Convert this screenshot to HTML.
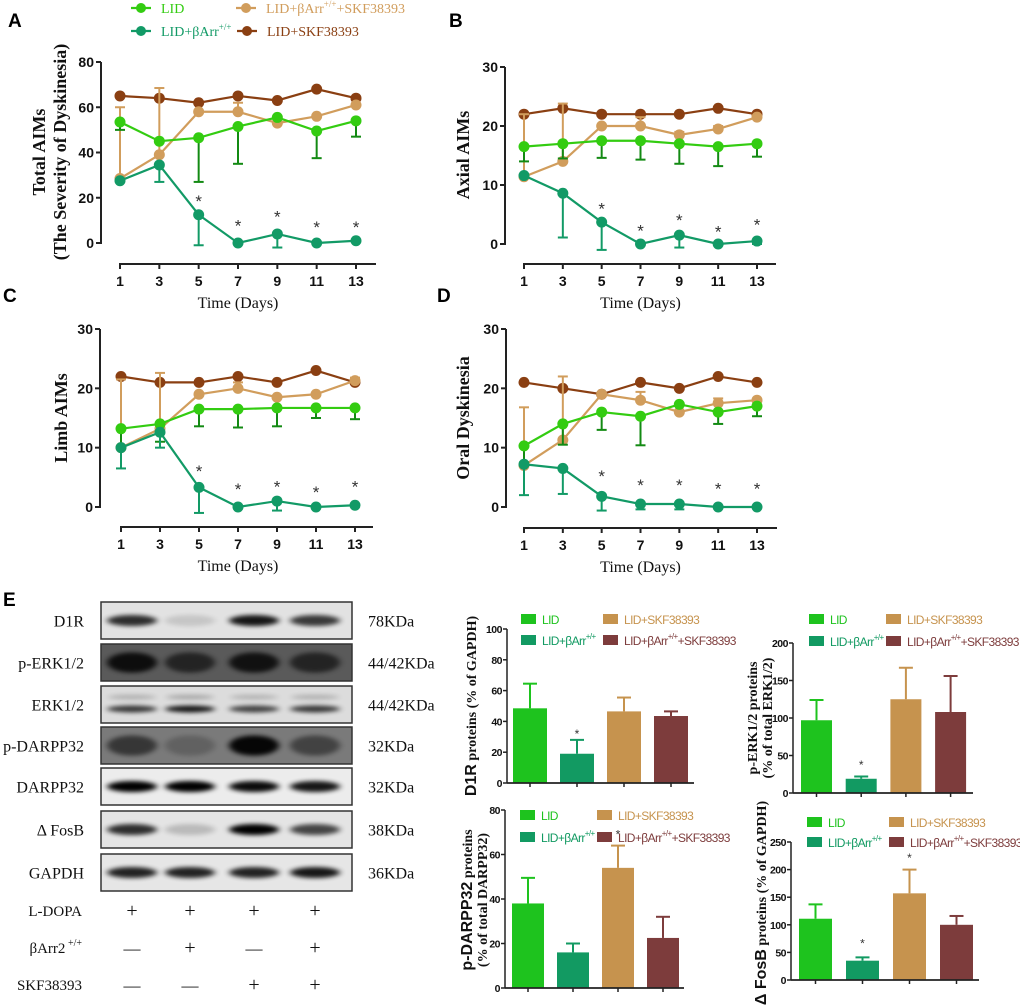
<!DOCTYPE html>
<html><head><meta charset="utf-8">
<style>
html,body{margin:0;padding:0;background:#fff;}
svg{display:block;}
.serif{font-family:"Liberation Serif",serif;}
.sans{font-family:"Liberation Sans",sans-serif;}
</style></head>
<body>
<svg id="fig" width="1020" height="1006" viewBox="0 0 1020 1006" xmlns="http://www.w3.org/2000/svg">
<defs>
<filter id="blur" x="-30%" y="-100%" width="160%" height="300%"><feGaussianBlur stdDeviation="3.2 2.2"/></filter>
</defs>
</svg>
<script>
const SVG='http://www.w3.org/2000/svg';
const fig=document.getElementById('fig');
function mk(tag,attrs,name,parent){
  const el=document.createElementNS(SVG,tag);
  for(const k in attrs)el.setAttribute(k,attrs[k]);
  
  
  (parent||fig).appendChild(el);return el;
}
function txt(x,y,s,attrs,name,parent){const t=mk('text',Object.assign({x:x,y:y},attrs),name,parent);t.textContent=s;return t;}

/* ---------- line chart data ---------- */
const days=[1,3,5,7,9,11,13];
const dayTicks=['1','3','5','7','9','11','13'];
// Panel A
const aLid=[53.5,45,46.5,51.5,55.5,49.5,54];
const aLidErr=[50,null,27,35,null,37.5,47];
const aBarr=[27.5,34.5,12.5,0,4,0,1];
const aBarrErr=[null,27,-1,null,-2,null,null];
const aTan=[28.5,39,58,58,53,56,61];
const aTanErr=[60,68.5,null,62,null,null,null];
const aBrown=[65,64,62,65,63,68,64];
const aStars=[null,null,20,9,13,8.5,8.5];
const aTicks=[0,20,40,60,80];
// Panel B
const bLid=[16.5,17,17.5,17.5,17,16.5,17];
const bLidErr=[14,14.5,14.6,14.3,13.6,13.2,14.8];
const bBarr=[11.6,8.6,3.7,0,1.5,0,0.5];
const bBarrErr=[null,1.1,-1,null,-0.6,null,0];
const bTan=[11.4,14,20,20,18.5,19.5,21.5];
const bTanErr=[22,23.8,null,21.5,19,20,null];
const bBrown=[22,23,22,22,22,23,22];
const bStars=[null,null,6.5,2.8,4.6,2.6,3.8];
const bdTicks=[0,10,20,30];
// Panel C
const cLid=[13.2,14,16.5,16.5,16.7,16.7,16.7];
const cLidErr=[10,11,13.6,13.4,13.6,15,14.8];
const cBarr=[10,12.6,3.3,0,1,0,0.3];
const cBarrErr=[6.5,10,-1,null,-0.6,null,null];
const cTan=[10,13.2,19,20,18.5,19,21.3];
const cTanErr=[21.5,22.6,null,21,null,null,21.8];
const cBrown=[22,21,21,22,21,23,21];
const cStars=[null,null,6.6,3.5,4,3,4];
// Panel D
const dLid=[10.3,14,16,15.3,17.3,16,17];
const dLidErr=[7.5,10.5,13,10.4,null,14,15.3];
const dBarr=[7.2,6.5,1.8,0.5,0.5,0,0];
const dBarrErr=[2,2.2,-0.6,-0.4,-0.4,null,null];
const dTan=[7,11.3,19,18,16,17.5,18];
const dTanErr=[16.8,22,null,19.4,null,18.3,null];
const dBrown=[21,20,19,21,20,22,21];
const dStars=[null,null,5.7,4.2,4.2,3.6,3.6];

const C_LID='#33cc11',C_LIDE='#138a13',C_BARR='#129a66',C_TAN='#d19d5c',C_BROWN='#8a3f12';

function lineChart(p,id){
  const g=mk('g',{},id+'-chart');
  const y=v=>p.y0+(v-p.ymin)/(p.ymax-p.ymin)*(p.ytop-p.y0);
  const x=d=>p.x1+(d-1)/12*(p.x13-p.x1);
  mk('line',{x1:p.ax,y1:p.ytop,x2:p.ax,y2:p.y0+1,stroke:'#222','stroke-width':2},id+'-y-axis',g);
  p.ticks.forEach(t=>{
    mk('line',{x1:p.ax-5,y1:y(t),x2:p.ax,y2:y(t),stroke:'#222','stroke-width':2},id+'-y-tick',g);
    txt(p.ax-7,y(t)+5,String(t),{'text-anchor':'end','font-size':14,'font-weight':'bold',class:'sans',fill:'#111'},id+'-y-tick-label',g);
  });
  mk('line',{x1:x(1)-1,y1:p.xa,x2:p.xend,y2:p.xa,stroke:'#222','stroke-width':2},id+'-x-axis',g);
  days.forEach((d,i)=>{
    mk('line',{x1:x(d),y1:p.xa,x2:x(d),y2:p.xa+5,stroke:'#222','stroke-width':2},id+'-x-tick',g);
    txt(x(d),p.xa+22,dayTicks[i],{'text-anchor':'middle','font-size':14,'font-weight':'bold',class:'sans',fill:'#111'},id+'-x-tick-label',g);
  });
  txt((x(1)+x(13))/2,p.xa+44,'Time (Days)',{'text-anchor':'middle','font-size':16,class:'serif',fill:'#111'},id+'-x-axis-title',g);
  p.ytitle.forEach((s,k)=>{
    const tx=p.tx[k];
    txt(tx,p.ty,s,{'text-anchor':'middle','font-size':18,'font-weight':'bold',class:'serif',fill:'#111',transform:'rotate(-90 '+tx+' '+p.ty+')'},id+'-y-axis-title',g);
  });
  const series=[[p.brown,null,C_BROWN,C_BROWN,'skf'],[p.tan,p.tanErr,C_TAN,C_TAN,'barr-skf'],[p.lid,p.lidErr,C_LID,C_LIDE,'lid'],[p.barr,p.barrErr,C_BARR,C_BARR,'barr']];
  series.forEach(s=>{
    const [vals,errs,col,ecol,nm]=s;
    if(errs)errs.forEach((e,i)=>{
      if(e===null)return;
      mk('line',{x1:x(days[i]),y1:y(vals[i]),x2:x(days[i]),y2:y(e),stroke:ecol,'stroke-width':2},id+'-'+nm+'-error-bar',g);
      mk('line',{x1:x(days[i])-5,y1:y(e),x2:x(days[i])+5,y2:y(e),stroke:ecol,'stroke-width':2},id+'-'+nm+'-error-cap',g);
    });
    mk('polyline',{points:vals.map((v,i)=>x(days[i])+','+y(v)).join(' '),fill:'none',stroke:col,'stroke-width':2.2},id+'-'+nm+'-line',g);
    vals.forEach((v,i)=>mk('circle',{cx:x(days[i]),cy:y(v),r:5.5,fill:col},id+'-'+nm+'-point',g));
  });
  p.stars.forEach((s,i)=>{if(s!==null)txt(x(days[i]),y(s)+9,'*',{'text-anchor':'middle','font-size':17,class:'sans',fill:'#333'},id+'-significance-star',g);});
}
lineChart({ax:101,ytop:62,y0:243,ymin:0,ymax:80,ticks:aTicks,xa:264,x1:120,x13:356,xend:376,
  ytitle:['Total AIMs','(The Severity of Dyskinesia)'],tx:[45,66],ty:152,
  lid:aLid,lidErr:aLidErr,barr:aBarr,barrErr:aBarrErr,tan:aTan,tanErr:aTanErr,brown:aBrown,stars:aStars},'panel-a');
lineChart({ax:505,ytop:67,y0:244,ymin:0,ymax:30,ticks:bdTicks,xa:264,x1:524,x13:757,xend:776,
  ytitle:['Axial AIMs'],tx:[469],ty:155,
  lid:bLid,lidErr:bLidErr,barr:bBarr,barrErr:bBarrErr,tan:bTan,tanErr:bTanErr,brown:bBrown,stars:bStars},'panel-b');
lineChart({ax:100,ytop:329,y0:507,ymin:0,ymax:30,ticks:bdTicks,xa:527,x1:121,x13:355,xend:373,
  ytitle:['Limb AIMs'],tx:[67],ty:418,
  lid:cLid,lidErr:cLidErr,barr:cBarr,barrErr:cBarrErr,tan:cTan,tanErr:cTanErr,brown:cBrown,stars:cStars},'panel-c');
lineChart({ax:506,ytop:329,y0:507,ymin:0,ymax:30,ticks:bdTicks,xa:528,x1:524,x13:757,xend:777,
  ytitle:['Oral Dyskinesia'],tx:[469],ty:418,
  lid:dLid,lidErr:dLidErr,barr:dBarr,barrErr:dBarrErr,tan:dTan,tanErr:dTanErr,brown:dBrown,stars:dStars},'panel-d');

/* top legend */
function lineLegend(x,y,col,label,sup,rest,name){
  const g=mk('g',{},name);
  mk('line',{x1:x,y1:y,x2:x+20,y2:y,stroke:col,'stroke-width':2.2},name+'-line',g);
  mk('circle',{cx:x+10,cy:y,r:5,fill:col},name+'-marker',g);
  const t=txt(x+30,y+5,label,{'font-size':14,class:'serif',fill:col},name+'-label',g);
  if(sup){const s=mk('tspan',{'font-size':9,dy:-6},name+'-sup',t);s.textContent=sup;
    if(rest){const r=mk('tspan',{'font-size':14,dy:6},name+'-rest',t);r.textContent=rest;}}
}
lineLegend(131,8,C_LID,'LID',null,null,'legend-lid');
lineLegend(131,31,C_BARR,'LID+βArr','+/+',null,'legend-lid-barr');
lineLegend(236,8,C_TAN,'LID+βArr','+/+','+SKF38393','legend-lid-barr-skf');
lineLegend(237,31,C_BROWN,'LID+SKF38393',null,null,'legend-lid-skf');

/* panel letters */
[['A',8,27],['B',449,27],['C',3,302],['D',437,302],['E',3,606]].forEach(l=>txt(l[1],l[2],l[0],{'font-size':19,'font-weight':'bold',class:'sans',fill:'#000'},'panel-label-'+l[0].toLowerCase()));

/* ---------- western blot ---------- */
const blotRows=['D1R','p-ERK1/2','ERK1/2','p-DARPP32','DARPP32','Δ FosB','GAPDH'];
const blotKDa=['78KDa','44/42KDa','44/42KDa','32KDa','32KDa','38KDa','36KDa'];
const blotBg=['#e2e2e2','#5a5a5a','#dcdcdc','#7a7a7a','#ececec','#e4e4e4','#e6e6e6'];
const blotBands=[[0.8,0.12,0.9,0.75],[0.85,0.6,0.8,0.6],[0.75,0.9,0.7,0.75],[0.55,0.2,0.95,0.45],[1,1,0.95,0.9],[0.8,0.18,1,0.7],[0.85,0.85,0.85,0.9]];
const blotTop=[602,644,686,727,768,811,854];
const laneX=[132,190,254,315];
const g=mk('g',{},'western-blot');
blotRows.forEach((r,i)=>{
  const y=blotTop[i],h=37;
  const rg=mk('g',{},'blot-row-'+i,g);
  mk('rect',{x:101,y:y,width:251,height:h,fill:blotBg[i]},'blot-background',rg);
  blotBands[i].forEach((v,j)=>{
    const by=(i===2)?y+h*0.62:y+h/2;
    const bh=(i===1||i===3)?h*0.55:(i===2?7:h*0.3);
    mk('ellipse',{cx:laneX[j],cy:by,rx:25,ry:bh/2,fill:'#000',opacity:v,filter:'url(#blur)'},'blot-band',rg);
    if(i===2)mk('ellipse',{cx:laneX[j],cy:y+h*0.3,rx:24,ry:2.5,fill:'#000',opacity:v*0.25,filter:'url(#blur)'},'blot-band-upper',rg);
  });
  mk('rect',{x:101,y:y,width:251,height:h,fill:'none',stroke:'#333','stroke-width':1.5},'blot-frame',rg);
  txt(84,y+h/2+6,r,{'text-anchor':'end','font-size':16,class:'serif',fill:'#111'},'blot-label',rg);
  txt(368,y+h/2+6,blotKDa[i],{'font-size':16,class:'serif',fill:'#111'},'blot-kda-label',rg);
});
const treatNames=['L-DOPA','βArr2','SKF38393'];
const treatSigns=[['+','+','+','+'],['—','+','—','+'],['—','—','+','+']];
[910,947,984].forEach((y,i)=>{
  const t=txt(82,y+6,treatNames[i],{'text-anchor':'end','font-size':15,class:'serif',fill:'#111'},'treatment-label',g);
  if(i===1){const s=mk('tspan',{'font-size':10,dy:-7},'treatment-sup',t);s.textContent=' +/+';}
  treatSigns[i].forEach((s,j)=>txt(laneX[j],y+7,s,{'text-anchor':'middle','font-size':s==='+'?20:17,class:'serif',fill:'#111'},'treatment-sign',g));
});

/* ---------- bar charts ---------- */
const barColors=['#1ec31e','#129a62','#c6934e','#7d3c3c'];
const d1rVals=[48.5,19,46.5,43.5];
const d1rErr=[64.5,28,55.5,46.5];
const d1rStars=[null,33,null,null];
const perkVals=[97,19,125,108];
const perkErr=[124,22,167,156];
const perkStars=[null,40,null,null];
const pdarppVals=[38,16,54,22.5];
const pdarppErr=[49.5,20,64,32];
const pdarppStars=[null,null,70,null];
const fosbVals=[111,35,157,100];
const fosbErr=[137,41,200,116];
const fosbStars=[null,70,225,null];
const d1rTicks=[0,20,40,60,80,100];
const perkTicks=[0,50,100,150,200];
const pdarppTicks=[0,20,40,60,80];
const fosbTicks=[0,50,100,150,200,250];

function barChart(p,id){
  const g=mk('g',{},id+'-chart');
  const y=v=>p.y0-v/p.ymax*(p.y0-p.ytop);
  const bw=p.bw;
  const x=i=>p.bx0+i*p.step;
  p.vals.forEach((v,i)=>{
    mk('line',{x1:x(i)+bw/2,y1:y(v),x2:x(i)+bw/2,y2:y(p.err[i]),stroke:barColors[i],'stroke-width':2},id+'-error-bar',g);
    mk('line',{x1:x(i)+bw/2-7,y1:y(p.err[i]),x2:x(i)+bw/2+7,y2:y(p.err[i]),stroke:barColors[i],'stroke-width':2},id+'-error-cap',g);
    mk('rect',{x:x(i),y:y(v),width:bw,height:p.y0-y(v),fill:barColors[i]},id+'-bar-'+i,g);
    if(p.stars[i]!==null)txt(x(i)+bw/2,y(p.stars[i])+6,'*',{'text-anchor':'middle','font-size':12,class:'sans',fill:'#333'},id+'-significance-star',g);
    mk('line',{x1:x(i)+bw/2,y1:p.y0,x2:x(i)+bw/2,y2:p.y0+4,stroke:'#222','stroke-width':1.5},id+'-x-tick',g);
  });
  mk('line',{x1:p.ax,y1:p.ytop,x2:p.ax,y2:p.y0,stroke:'#222','stroke-width':1.5},id+'-y-axis',g);
  mk('line',{x1:p.ax,y1:p.y0,x2:p.xend,y2:p.y0,stroke:'#222','stroke-width':1.8},id+'-x-axis',g);
  p.ticks.forEach(t=>{
    mk('line',{x1:p.ax-4,y1:y(t),x2:p.ax,y2:y(t),stroke:'#222','stroke-width':1.5},id+'-y-tick',g);
    txt(p.ax-5,y(t)+4,String(t),{'text-anchor':'end','font-size':10.5,'font-weight':'bold',class:'sans',fill:'#111','letter-spacing':'-0.5'},id+'-y-tick-label',g);
  });
  p.ytitle.forEach((s,k)=>{
    const tx=p.tx[k];
    const t=mk('text',{x:tx,y:p.ty,'text-anchor':'middle','font-size':14,'font-weight':'bold',class:'serif',fill:'#111',transform:'rotate(-90 '+tx+' '+p.ty+')'},id+'-y-axis-title',g);
    s.forEach(part=>{const sp=mk('tspan',part[1]?{class:'sans','font-size':16}:{},id+'-y-title-part',t);sp.textContent=part[0];});
  });
  const L=p.leg;
  const rows=[[0,L.x1,L.r1,'LID',null,null],[2,L.x2,L.r1,'LID+SKF38393',null,null],[1,L.x1,L.r2,'LID+βArr','+/+',null],[3,L.x2,L.r2,'LID+βArr','+/+','+SKF38393']];
  rows.forEach(r=>{
    mk('rect',{x:r[1],y:r[2]-5,width:15,height:10,fill:barColors[r[0]]},id+'-legend-swatch',g);
    const t=txt(r[1]+21,r[2]+5,r[3],{'font-size':12,class:'sans',fill:barColors[r[0]],'letter-spacing':'-0.6'},id+'-legend-label',g);
    if(r[4]){const s=mk('tspan',{'font-size':8,dy:-6},id+'-legend-sup',t);s.textContent=r[4];
      if(r[5]){const q=mk('tspan',{'font-size':12,dy:6},id+'-legend-rest',t);q.textContent=r[5];}}
  });
}
barChart({ax:507,ytop:629,y0:783,ymax:100,ticks:d1rTicks,bx0:513,step:47,bw:34,xend:694,vals:d1rVals,err:d1rErr,stars:d1rStars,
  ytitle:[[['D1R',1],[' proteins (% of GAPDH)',0]]],tx:[476],ty:706,leg:{x1:521,x2:603,r1:619,r2:640}},'d1r');
barChart({ax:793,ytop:643,y0:793,ymax:200,ticks:perkTicks,bx0:801,step:44.7,bw:31,xend:973,vals:perkVals,err:perkErr,stars:perkStars,
  ytitle:[[['p-ERK1/2 proteins',0]],[['(% of total ERK1/2)',0]]],tx:[757,772],ty:718,leg:{x1:809,x2:886,r1:619,r2:641}},'perk');
barChart({ax:505,ytop:810,y0:988,ymax:80,ticks:pdarppTicks,bx0:512,step:45,bw:32,xend:684,vals:pdarppVals,err:pdarppErr,stars:pdarppStars,
  ytitle:[[['p-DARPP32',1],[' proteins',0]],[['(% of total DARPP32)',0]]],tx:[472,487],ty:900,leg:{x1:520,x2:597,r1:815,r2:837}},'pdarpp32');
barChart({ax:791,ytop:842,y0:980,ymax:250,ticks:fosbTicks,bx0:799,step:47,bw:33,xend:979,vals:fosbVals,err:fosbErr,stars:fosbStars,
  ytitle:[[['Δ FosB',1],[' proteins (% of GAPDH)',0]]],tx:[766],ty:903,leg:{x1:807,x2:889,r1:822,r2:842}},'fosb');
</script>
</body></html>
